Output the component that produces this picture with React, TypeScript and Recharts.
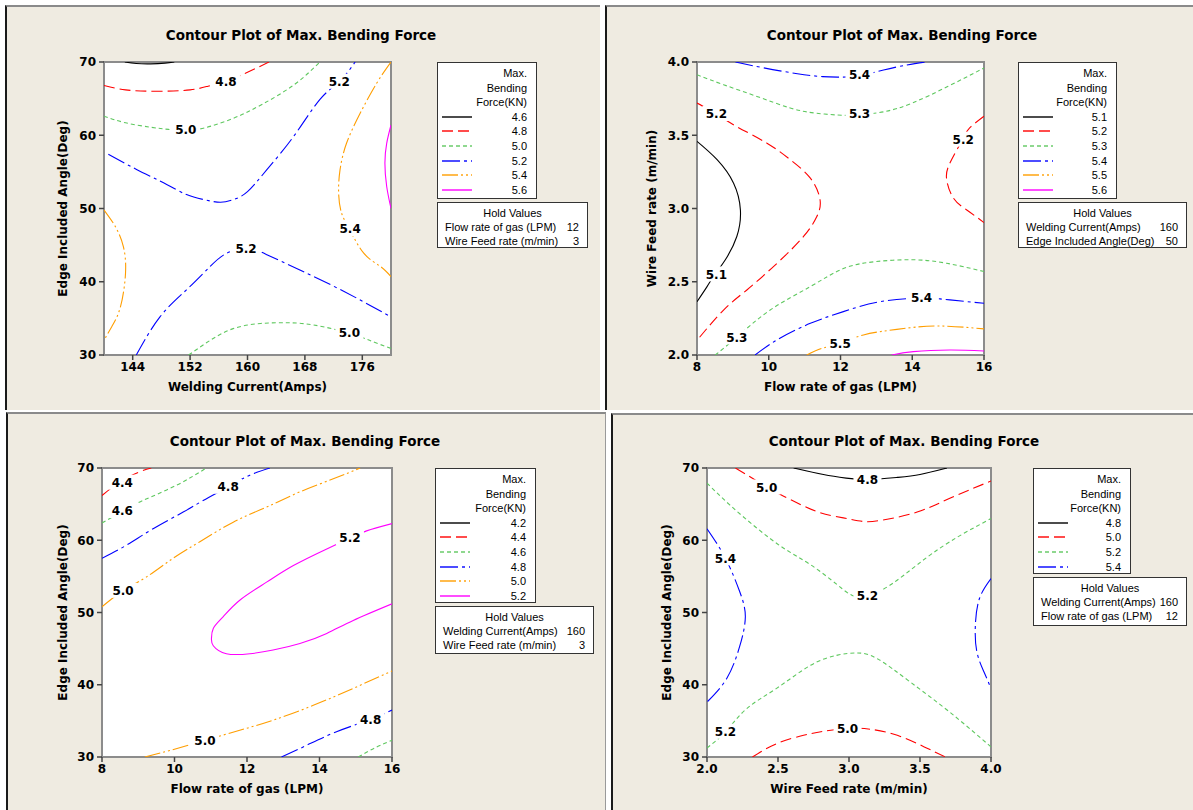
import React from "react"
import { ScatterChart, Scatter, XAxis, YAxis } from "recharts"

// ---- shared styling ----
const FONT = "'DejaVu Sans', Verdana, sans-serif"
const SMALL_FONT = "'Liberation Sans', Arial, sans-serif"
const PANEL_BG = "#EFEBE1"
const TITLE = "Contour Plot of Max. Bending Force"

// one style per contour level slot (Minitab order)
const levelStyles = [
  { color: "#000000", dash: undefined as string | undefined },
  { color: "#FF0000", dash: "11 5" },
  { color: "#5FC85F", dash: "4 3" },
  { color: "#0000FF", dash: "18 4 3 4" },
  { color: "#FF9E00", dash: "16 3 2 3 2 3" },
  { color: "#FF00FF", dash: undefined },
]

// ---- Welding Current vs Edge Included Angle ----
const tlLevels = ["4.6", "4.8", "5.0", "5.2", "5.4", "5.6"]
const tlXTicks = [144, 152, 160, 168, 176]
const tlYTicks = [30, 40, 50, 60, 70]
const tl46 = [[142.9, 70], [144.5, 69.8], [146.5, 69.75], [148.5, 69.85], [149.8, 70]]
const tl48 = [[140, 66.8], [143, 66.2], [147.5, 66.0], [152, 66.2], [154.5, 66.7], [157, 67.4], [160, 68.6], [163, 70]]
const tl50a = [[140, 62.6], [143, 61.7], [146.5, 61.1], [149, 60.8], [151.5, 60.7], [154, 61.0], [158, 62.3], [162, 64.2], [166.5, 66.9], [170.1, 70]]
const tl52a = [[140.6, 57.4], [144.6, 55.3], [148.3, 53.5], [151.5, 51.9], [154, 51.2], [156.2, 50.85], [158, 51.2], [160, 52.3], [162.7, 55.3], [166.4, 59.8], [170.1, 64.9], [172.8, 67.3], [175, 70]]
const tl52b = [[144.5, 30], [147.8, 35.2], [151.5, 38.9], [154.8, 42.1], [157.1, 43.9], [159.9, 44.6], [162.7, 43.7], [167.3, 41.6], [173.4, 38.7], [180, 35.2]]
const tl50b = [[151.8, 30], [154.8, 32], [158, 33.6], [161.8, 34.3], [165.5, 34.4], [169.2, 34.1], [174.2, 33.0], [177, 32.0], [180, 30.9]]
const tl54a = [[140, 49.8], [141.6, 47.5], [142.7, 44.8], [143.0, 41.2], [142.3, 36.6], [141.1, 33.9], [140, 32.0]]
const tl54b = [[180, 70], [178, 67.1], [175.7, 63.0], [173.8, 58.9], [172.9, 55.3], [172.7, 52.1], [173.1, 49.4], [174.2, 47.2], [176.2, 43.9], [178.5, 42.1], [180, 40.7]]
const tl56 = [[180, 61.4], [179.4, 58.9], [179.15, 56.2], [179.4, 53.0], [180, 50.0]]
const tlTags = [[157, 67.3, 1], [151.4, 60.75, 2], [172.8, 67.3, 3], [174.3, 47.2, 4], [159.8, 44.5, 3], [174.2, 33.0, 2]]

// ---- Flow rate of gas vs Wire Feed rate ----
const trLevels = ["5.1", "5.2", "5.3", "5.4", "5.5", "5.6"]
const trXTicks = [8, 10, 12, 14, 16]
const trYTicks = [2.0, 2.5, 3.0, 3.5, 4.0]
const tr54a = [[9.07, 4.0], [9.86, 3.96], [10.8, 3.92], [11.5, 3.9], [11.95, 3.897], [12.5, 3.905], [13.2, 3.945], [13.85, 3.98], [14.36, 4.0]]
const tr53a = [[8, 3.913], [8.74, 3.845], [9.67, 3.765], [10.6, 3.686], [11.34, 3.65], [12.08, 3.636], [12.5, 3.64], [13.2, 3.66], [14.0, 3.72], [15.0, 3.834], [16, 3.959]]
const tr52a = [[8, 3.72], [8.5, 3.65], [9.1, 3.56], [9.95, 3.446], [10.6, 3.333], [11.16, 3.207], [11.43, 3.06], [11.34, 2.945], [10.97, 2.809], [10.23, 2.626], [9.39, 2.444], [8.74, 2.307], [8, 2.1]]
const tr51 = [[8, 3.458], [8.56, 3.333], [9.02, 3.173], [9.21, 2.99], [9.11, 2.809], [8.79, 2.65], [8.5, 2.55], [8.28, 2.467], [8, 2.364]]
const tr52b = [[16, 3.63], [15.6, 3.55], [15.4, 3.47], [15.05, 3.31], [14.96, 3.196], [15.15, 3.07], [15.52, 2.99], [16, 2.904]]
const tr53b = [[8.51, 2.0], [9.1, 2.12], [10.04, 2.307], [11.16, 2.467], [12.08, 2.59], [13, 2.638], [14.03, 2.65], [14.96, 2.626], [16, 2.57]]
const tr54b = [[9.62, 2.0], [10.23, 2.103], [11.16, 2.216], [12.08, 2.296], [13.1, 2.364], [14.26, 2.388], [15.05, 2.376], [16, 2.353]]
const tr55 = [[11.06, 2.0], [11.48, 2.045], [12.0, 2.08], [12.64, 2.137], [13.57, 2.175], [14.68, 2.198], [16, 2.178]]
const tr56 = [[13.43, 2.0], [14.03, 2.023], [15.05, 2.034], [16, 2.027]]
const trTags = [[12.53, 3.913, 3], [12.53, 3.645, 2], [8.54, 3.645, 1], [15.42, 3.47, 1], [8.54, 2.55, 0], [14.26, 2.388, 3], [9.11, 2.12, 2], [11.99, 2.08, 4]]

// ---- Flow rate of gas vs Edge Included Angle ----
const blLevels = ["4.2", "4.4", "4.6", "4.8", "5.0", "5.2"]
const blXTicks = [8, 10, 12, 14, 16]
const blYTicks = [30, 40, 50, 60, 70]
const bl44 = [[8, 66.2], [8.5, 68.1], [9.0, 69.4], [9.36, 70]]
const bl46a = [[8, 62.4], [8.56, 64.0], [9.13, 65.5], [10.05, 67.6], [10.88, 70]]
const bl48a = [[8, 57.5], [8.67, 59.3], [9.41, 61.6], [10.24, 63.9], [10.79, 65.5], [11.48, 67.4], [12.08, 69.0], [12.63, 70]]
const bl50a = [[8, 50.8], [8.58, 53.0], [9.22, 54.9], [9.96, 57.5], [10.7, 59.8], [11.62, 62.5], [12.54, 64.6], [13.46, 66.7], [14.38, 68.5], [15.12, 70]]
const bl52 = [[16, 62.3], [15.3, 61.3], [14.84, 60.3], [14.2, 58.8], [13.28, 56.5], [12.54, 54.2], [11.8, 51.7], [11.34, 49.4], [11.07, 47.8], [11.02, 46.4], [11.07, 45.4], [11.43, 44.3], [12.08, 44.3], [12.72, 44.8], [13.46, 45.7], [14.2, 47.1], [14.93, 48.9], [16, 51.2]]
const bl50b = [[9.18, 30], [9.87, 30.9], [10.84, 32.3], [11.8, 33.7], [12.72, 35.1], [13.83, 37.15], [14.93, 39.5], [16, 41.9]]
const bl48b = [[12.95, 30], [13.64, 31.6], [14.47, 33.5], [15.41, 35.2], [16, 36.5]]
const bl46b = [[15.07, 30], [15.58, 31.4], [16, 32.3]]
const blTags = [[8.56, 67.97, 1], [8.56, 64.05, 2], [11.48, 67.4, 3], [8.58, 53.0, 4], [14.84, 60.3, 5], [10.84, 32.3, 4], [15.41, 35.2, 3]]

// ---- Wire Feed rate vs Edge Included Angle ----
const brLevels = ["4.8", "5.0", "5.2", "5.4"]
const brXTicks = [2.0, 2.5, 3.0, 3.5, 4.0]
const brYTicks = [30, 40, 50, 60, 70]
const br48 = [[2.61, 70], [2.82, 69.1], [2.98, 68.6], [3.13, 68.4], [3.34, 68.7], [3.5, 69.1], [3.69, 70]]
const br50a = [[2.2, 70], [2.35, 68.2], [2.42, 67.3], [2.54, 66.1], [2.77, 64.0], [2.96, 63.1], [3.1, 62.6], [3.24, 62.8], [3.48, 63.9], [3.71, 65.8], [4.0, 68.2]]
const br52a = [[2, 67.9], [2.16, 64.9], [2.35, 61.7], [2.54, 58.9], [2.73, 56.6], [2.92, 53.8], [3.02, 52.4], [3.13, 52.3], [3.29, 53.8], [3.48, 56.6], [3.71, 59.8], [4, 63.0]]
const br54a = [[2, 61.6], [2.13, 57.5], [2.23, 52.9], [2.27, 49.4], [2.23, 45.3], [2.14, 40.9], [2, 37.6]]
const br54b = [[4, 54.7], [3.92, 52.0], [3.89, 48.3], [3.9, 44.6], [3.95, 41.8], [4, 39.5]]
const br52b = [[2, 31.25], [2.13, 33.5], [2.28, 36.7], [2.49, 39.5], [2.73, 42.7], [2.92, 44.1], [3.06, 44.4], [3.2, 43.6], [3.43, 40.4], [3.71, 36.2], [4, 31.4]]
const br50b = [[2.32, 30], [2.49, 31.85], [2.68, 33.0], [2.82, 33.56], [2.99, 33.95], [3.15, 33.84], [3.34, 33.0], [3.53, 31.4], [3.68, 30]]
const brTags = [[3.13, 68.4, 0], [2.42, 67.3, 1], [2.13, 57.5, 3], [3.13, 52.3, 2], [2.13, 33.5, 2], [2.99, 33.95, 1]]

type Contour = { level: number; points: number[][] }
type Box = { left: number; top: number; width: number; height: number }

const toXY = (pts: number[][]) => pts.map(([x, y]) => ({ x, y }))

const Nothing = () => <g />

function TagMark(props: any) {
  const { cx, cy, payload } = props
  return (
    <g>
      <rect x={cx - 14} y={cy - 8} width={28} height={15} fill="#fff" />
      <text x={cx} y={cy} dy="0.36em" textAnchor="middle" fontFamily={FONT} fontSize={12} fontWeight={700} fill="#000">
        {payload.text}
      </text>
    </g>
  )
}

const AX_W = 60
const AX_H = 44
const M_T = 10
const M_R = 14

function ContourChart(props: {
  plot: Box
  xDomain: [number, number]
  yDomain: [number, number]
  xTicks: number[]
  yTicks: number[]
  xDigits: number
  yDigits: number
  xLabel: string
  yLabel: string
  yLabelGap: number
  levels: string[]
  contours: Contour[]
  tags: number[][]
}) {
  const { plot, levels } = props
  const tagData = props.tags.map(([x, y, lv]) => ({ x, y, text: levels[lv] }))
  const tickStyle = { fill: "#000", fontSize: 12, fontWeight: 700, fontFamily: FONT }
  const xl = AX_W + plot.width / 2
  const yl = M_T + plot.height / 2
  return (
    <div style={{ position: "absolute", left: plot.left - AX_W, top: plot.top - M_T }}>
      <div
        style={{
          position: "absolute",
          left: AX_W - 1,
          top: M_T - 1,
          width: plot.width + 2,
          height: plot.height + 2,
          boxSizing: "border-box",
          background: "#fff",
          border: "2px solid #8c8c8c",
        }}
      />
      <ScatterChart
        width={AX_W + plot.width + M_R}
        height={M_T + plot.height + AX_H}
        margin={{ top: M_T, right: M_R, bottom: 0, left: 0 }}
      >
        <XAxis
          type="number"
          dataKey="x"
          domain={props.xDomain}
          ticks={props.xTicks}
          interval={0}
          allowDataOverflow
          height={AX_H}
          axisLine={false}
          tickLine={{ stroke: "#444", strokeWidth: 1.5 }}
          tickSize={5}
          tickMargin={2}
          tick={tickStyle}
          tickFormatter={(v: number) => v.toFixed(props.xDigits)}
          label={{
            content: () => (
              <text x={xl} y={M_T + plot.height + 32} dy="0.36em" textAnchor="middle" fontFamily={FONT} fontSize={12} fontWeight={700} fill="#000">
                {props.xLabel}
              </text>
            ),
          }}
        />
        <YAxis
          type="number"
          dataKey="y"
          domain={props.yDomain}
          ticks={props.yTicks}
          interval={0}
          allowDataOverflow
          width={AX_W}
          axisLine={false}
          tickLine={{ stroke: "#444", strokeWidth: 1.5 }}
          tickSize={5}
          tickMargin={3}
          tick={tickStyle}
          tickFormatter={(v: number) => v.toFixed(props.yDigits)}
          label={{
            content: () => (
              <text
                x={AX_W - props.yLabelGap}
                y={yl}
                dy="0.36em"
                textAnchor="middle"
                transform={`rotate(-90, ${AX_W - props.yLabelGap}, ${yl})`}
                fontFamily={FONT}
                fontSize={12}
                fontWeight={700}
                fill="#000"
              >
                {props.yLabel}
              </text>
            ),
          }}
        />
        {props.contours.map((c, i) => {
          const st = levelStyles[c.level]
          return (
            <Scatter
              key={i}
              data={toXY(c.points)}
              fill={st.color}
              line={{ stroke: st.color, strokeWidth: 1.1, strokeDasharray: st.dash }}
              lineType="joint"
              lineJointType="natural"
              shape={Nothing}
              legendType="none"
              isAnimationActive={false}
            />
          )
        })}
        <Scatter data={tagData} shape={TagMark} legendType="none" isAnimationActive={false} />
      </ScatterChart>
    </div>
  )
}

function LevelLegend({ box, levels }: { box: Box; levels: string[] }) {
  const rows = ["Max.", "Bending", "Force(KN)"]
  const rowY = (i: number) => 10 + i * 14.6
  return (
    <div
      style={{
        position: "absolute",
        ...box,
        boxSizing: "border-box",
        background: "#fff",
        border: "1px solid #333",
        fontFamily: SMALL_FONT,
        fontSize: 11,
        color: "#000",
      }}
    >
      {rows.map((r, i) => (
        <div key={r} style={{ position: "absolute", right: 9, top: rowY(i) - 7, lineHeight: "14px" }}>
          {r}
        </div>
      ))}
      {levels.map((lv, i) => {
        const st = levelStyles[i]
        const y = rowY(i + 3)
        return (
          <React.Fragment key={lv}>
            <svg style={{ position: "absolute", left: 4, top: y - 3 }} width={31} height={6}>
              <line x1={0} y1={3} x2={30} y2={3} stroke={st.color} strokeWidth={2} strokeOpacity={0.7} strokeDasharray={st.dash} />
            </svg>
            <div style={{ position: "absolute", right: 9, top: y - 7, lineHeight: "14px" }}>{lv}</div>
          </React.Fragment>
        )
      })}
    </div>
  )
}

function HoldBox({ box, rows }: { box: Box; rows: string[][] }) {
  return (
    <div
      style={{
        position: "absolute",
        ...box,
        boxSizing: "border-box",
        background: "#fff",
        border: "1px solid #333",
        fontFamily: SMALL_FONT,
        fontSize: 11,
        color: "#000",
      }}
    >
      <div style={{ position: "absolute", left: 0, right: 0, top: 3, textAlign: "center", lineHeight: "14px" }}>Hold Values</div>
      {rows.map(([name, val], i) => (
        <React.Fragment key={name}>
          <div style={{ position: "absolute", left: 7, top: 17 + i * 14, lineHeight: "14px" }}>{name}</div>
          <div style={{ position: "absolute", right: 8, top: 17 + i * 14, lineHeight: "14px" }}>{val}</div>
        </React.Fragment>
      ))}
    </div>
  )
}

function PanelFrame({ box, titleX, titleY, rightEdge }: { box: Box; titleX: number; titleY: number; rightEdge?: boolean }) {
  return (
    <>
      <div
        style={{
          position: "absolute",
          ...box,
          boxSizing: "border-box",
          background: PANEL_BG,
          borderTop: "2px solid #8a8a8a",
          borderLeft: "2px solid #1a1a1a",
          borderRight: rightEdge ? "1px solid #9a9a9a" : undefined,
        }}
      />
      <div
        style={{
          position: "absolute",
          left: titleX - 200,
          width: 400,
          top: titleY - 9,
          lineHeight: "18px",
          textAlign: "center",
          fontFamily: FONT,
          fontWeight: 700,
          fontSize: 13.5,
          color: "#000",
        }}
      >
        {TITLE}
      </div>
    </>
  )
}

export default function App() {
  return (
    <div style={{ position: "absolute", left: 0, top: 0, width: 1193, height: 810, background: "#fff", overflow: "hidden" }}>
      {/* Welding Current vs Edge Included Angle */}
      <PanelFrame box={{ left: 5, top: 5, width: 595, height: 405 }} titleX={301} titleY={35} />
      <ContourChart
        plot={{ left: 104, top: 62, width: 287, height: 293 }}
        xDomain={[140, 180]}
        yDomain={[30, 70]}
        xTicks={tlXTicks}
        yTicks={tlYTicks}
        xDigits={0}
        yDigits={0}
        xLabel="Welding Current(Amps)"
        yLabel="Edge Included Angle(Deg)"
        yLabelGap={41}
        levels={tlLevels}
        contours={[
          { level: 0, points: tl46 },
          { level: 1, points: tl48 },
          { level: 2, points: tl50a },
          { level: 2, points: tl50b },
          { level: 3, points: tl52a },
          { level: 3, points: tl52b },
          { level: 4, points: tl54a },
          { level: 4, points: tl54b },
          { level: 5, points: tl56 },
        ]}
        tags={tlTags}
      />
      <LevelLegend box={{ left: 437, top: 62, width: 100, height: 137 }} levels={tlLevels} />
      <HoldBox
        box={{ left: 437, top: 202, width: 151, height: 46 }}
        rows={[["Flow rate of gas (LPM)", "12"], ["Wire Feed rate (m/min)", "3"]]}
      />

      {/* Flow rate of gas vs Wire Feed rate */}
      <PanelFrame box={{ left: 605, top: 5, width: 588, height: 405 }} titleX={902} titleY={35} />
      <ContourChart
        plot={{ left: 697, top: 62, width: 287, height: 293 }}
        xDomain={[8, 16]}
        yDomain={[2, 4]}
        xTicks={trXTicks}
        yTicks={trYTicks}
        xDigits={0}
        yDigits={1}
        xLabel="Flow rate of gas (LPM)"
        yLabel="Wire Feed rate (m/min)"
        yLabelGap={45}
        levels={trLevels}
        contours={[
          { level: 0, points: tr51 },
          { level: 1, points: tr52a },
          { level: 1, points: tr52b },
          { level: 2, points: tr53a },
          { level: 2, points: tr53b },
          { level: 3, points: tr54a },
          { level: 3, points: tr54b },
          { level: 4, points: tr55 },
          { level: 5, points: tr56 },
        ]}
        tags={trTags}
      />
      <LevelLegend box={{ left: 1018, top: 62, width: 99, height: 137 }} levels={trLevels} />
      <HoldBox
        box={{ left: 1018, top: 202, width: 169, height: 46 }}
        rows={[["Welding Current(Amps)", "160"], ["Edge Included Angle(Deg)", "50"]]}
      />

      {/* Flow rate of gas vs Edge Included Angle */}
      <PanelFrame box={{ left: 6, top: 412, width: 600, height: 398 }} titleX={305} titleY={441} rightEdge />
      <ContourChart
        plot={{ left: 102, top: 468, width: 290, height: 289 }}
        xDomain={[8, 16]}
        yDomain={[30, 70]}
        xTicks={blXTicks}
        yTicks={blYTicks}
        xDigits={0}
        yDigits={0}
        xLabel="Flow rate of gas (LPM)"
        yLabel="Edge Included Angle(Deg)"
        yLabelGap={39}
        levels={blLevels}
        contours={[
          { level: 1, points: bl44 },
          { level: 2, points: bl46a },
          { level: 2, points: bl46b },
          { level: 3, points: bl48a },
          { level: 3, points: bl48b },
          { level: 4, points: bl50a },
          { level: 4, points: bl50b },
          { level: 5, points: bl52 },
        ]}
        tags={blTags}
      />
      <LevelLegend box={{ left: 435, top: 468, width: 101, height: 135 }} levels={blLevels} />
      <HoldBox
        box={{ left: 435, top: 606, width: 159, height: 48 }}
        rows={[["Welding Current(Amps)", "160"], ["Wire Feed rate (m/min)", "3"]]}
      />

      {/* Wire Feed rate vs Edge Included Angle */}
      <PanelFrame box={{ left: 611, top: 413, width: 582, height: 397 }} titleX={904} titleY={441} />
      <ContourChart
        plot={{ left: 707, top: 468, width: 284, height: 289 }}
        xDomain={[2, 4]}
        yDomain={[30, 70]}
        xTicks={brXTicks}
        yTicks={brYTicks}
        xDigits={1}
        yDigits={0}
        xLabel="Wire Feed rate (m/min)"
        yLabel="Edge Included Angle(Deg)"
        yLabelGap={40}
        levels={brLevels}
        contours={[
          { level: 0, points: br48 },
          { level: 1, points: br50a },
          { level: 1, points: br50b },
          { level: 2, points: br52a },
          { level: 2, points: br52b },
          { level: 3, points: br54a },
          { level: 3, points: br54b },
        ]}
        tags={brTags}
      />
      <LevelLegend box={{ left: 1033, top: 468, width: 98, height: 106 }} levels={brLevels} />
      <HoldBox
        box={{ left: 1033, top: 577, width: 154, height: 49 }}
        rows={[["Welding Current(Amps)", "160"], ["Flow rate of gas (LPM)", "12"]]}
      />
    </div>
  )
}
